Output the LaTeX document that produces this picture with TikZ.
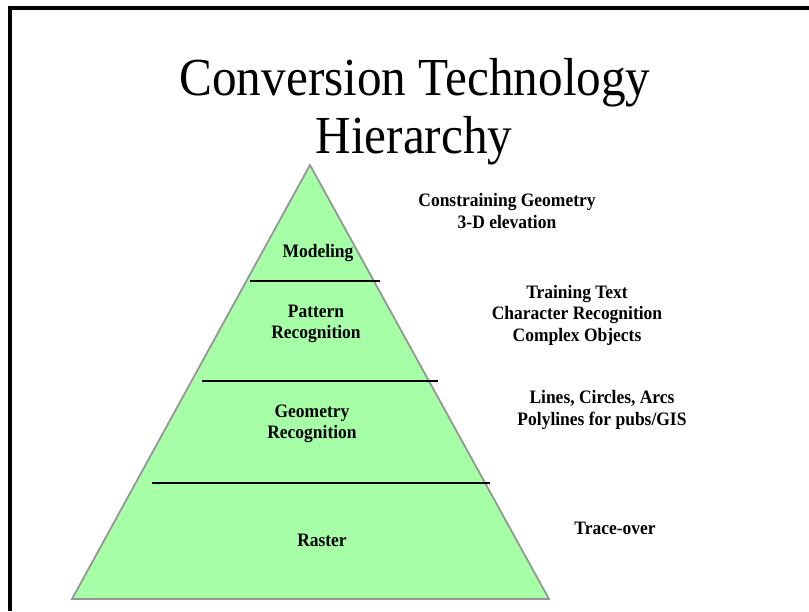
\documentclass[tikz,border=0pt]{standalone}
\usepackage{fontspec}
\setmainfont{Liberation Serif}[FakeStretch=0.92]
\usetikzlibrary{positioning}
\definecolor{pyrgreen}{RGB}{166,255,166}
\definecolor{pyredge}{RGB}{150,150,150}

\begin{document}
\begin{tikzpicture}[x=1pt,y=-1pt,
    title node/.style={font=\fontsize{53.5}{59}\selectfont,anchor=base,inner sep=0pt},
    level node/.style={font=\fontsize{19}{21.5}\selectfont\bfseries,align=center,inner sep=0pt},
    side node/.style={font=\fontsize{19}{21.5}\selectfont\bfseries,align=center,inner sep=0pt},
    divider/.style={line width=1.3pt}]
  \useasboundingbox (0,0) rectangle (809,611);
  % slide frame
  \draw[line width=4pt] (10,611) -- (10,8) -- (809,8);

  % title
  \node[title node] (t1) at (415,95) {Conversion Technology};
  \node[title node] (t2) at (414,153) {Hierarchy};

  % pyramid
  \coordinate (apex) at (310,165);
  \coordinate (bl) at (72,599);
  \coordinate (br) at (549,599);
  \filldraw[fill=pyrgreen,draw=pyredge,line width=1.8pt] (apex) -- (br) -- (bl) -- cycle;
  \draw[divider] (250,281) -- (380,281);
  \draw[divider] (202,381) -- (438,381);
  \draw[divider] (152,483) -- (490,483);

  % levels
  \node[level node] (model) at (318,253) {Modeling};
  \node[level node] (pattern) at (316,324) {Pattern\\Recognition};
  \node[level node] (geom) at (312,424) {Geometry\\Recognition};
  \node[level node] (raster) at (322,540) {Raster};

  % techniques beside each level
  \node[side node] (constr) at (507,211) {Constraining Geometry\\3-D elevation};
  \node[side node] (train) at (577,315) {Training Text\\Character Recognition\\Complex Objects};
  \node[side node] (lines) at (602,410) {Lines, Circles, Arcs\\Polylines for pubs/GIS};
  \node[side node] (trace) at (615,528) {Trace-over};
\end{tikzpicture}
\end{document}
